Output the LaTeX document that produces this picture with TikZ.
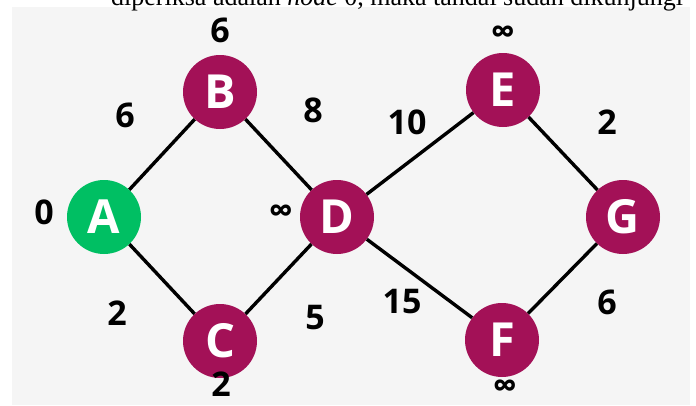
\documentclass[tikz,border=0pt]{standalone}
\usepackage{fontspec}
\setmainfont{Liberation Serif}
\setsansfont{Open Sans}
\usetikzlibrary{positioning}

\definecolor{nodegreen}{HTML}{00BF63}
\definecolor{nodeplum}{HTML}{A31157}
\definecolor{panelgray}{HTML}{F5F5F5}

\begin{document}
\begin{tikzpicture}[
  x=1pt, y=-1pt,
  vertex/.style={circle, fill=nodeplum, minimum size=74pt, inner sep=0pt, text=white, font=\fontsize{47}{50}\selectfont\sffamily\bfseries},
  start/.style={vertex, fill=nodegreen},
  weight/.style={inner sep=0pt, font=\fontsize{34}{38}\selectfont\sffamily\bfseries},
  edge/.style={line width=3.4pt, black}
]
\useasboundingbox (0,0) rectangle (696,405);
\clip (0,0) rectangle (696,405);
\fill[panelgray] (12,7) rectangle (690,405);
\node[anchor=base west, inner sep=0pt, font=\fontsize{26}{30}\selectfont] (caption) at (111,5.5) {diperiksa adalah \textit{node} 0, maka tandai sudah dikunjungi};

\node[start]  (A) at (104,217) {A};
\node[vertex] (B) at (220,92)  {B};
\node[vertex] (C) at (220,341) {C};
\node[vertex] (D) at (337,217) {D};
\node[vertex] (E) at (503,90)  {E};
\node[vertex] (F) at (502,340) {F};
\node[vertex] (G) at (623,217) {G};

\draw[edge] (A) -- (B);
\draw[edge] (A) -- (C);
\draw[edge] (B) -- (D);
\draw[edge] (C) -- (D);
\draw[edge] (D) -- (E);
\draw[edge] (D) -- (F);
\draw[edge] (E) -- (G);
\draw[edge] (F) -- (G);

% jarak sementara
\node[weight] (dA) at (44,212)  {0};
\node[weight] (dB) at (220,30)  {6};
\node[weight] (dC) at (221,384) {2};
\node[weight] (dD) at (281,214) {∞};
\node[weight] (dE) at (503,35)  {∞};
\node[weight] (dF) at (505,389) {∞};

% bobot sisi
\node[weight] (wAB) at (125,115) {6};
\node[weight] (wBD) at (313,110) {8};
\node[weight] (wAC) at (117,313) {2};
\node[weight] (wCD) at (315,318) {5};
\node[weight] (wDE) at (407,122) {10};
\node[weight] (wDF) at (402,302) {15};
\node[weight] (wEG) at (607,122) {2};
\node[weight] (wFG) at (607,302) {6};
\end{tikzpicture}
\end{document}
